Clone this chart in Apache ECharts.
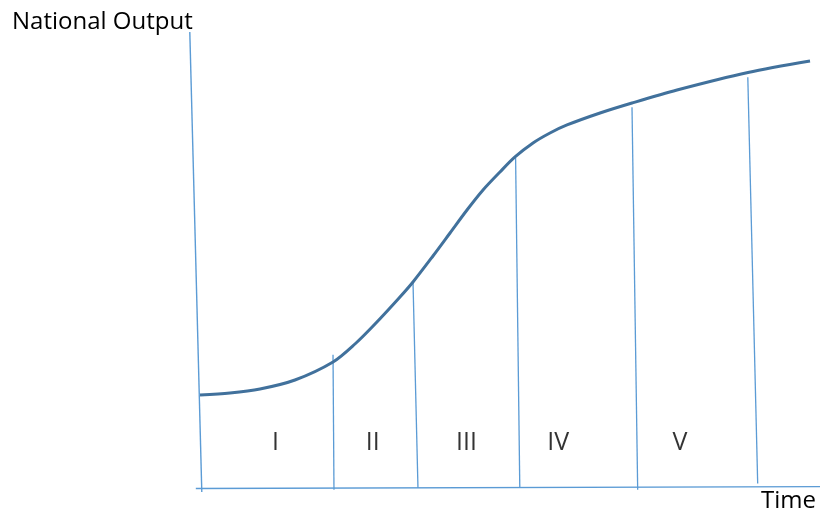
<!DOCTYPE html>
<html>
<head>
<meta charset="utf-8">
<script src="https://cdn.jsdelivr.net/npm/echarts@6/dist/echarts.min.js"></script>
<style>
html,body{margin:0;padding:0;background:#fff;}
#chart{width:820px;height:514px;}
</style>
</head>
<body>
<div id="chart"></div>
<script>
// ---- data (time units, output units) ----
const yAxisTitle = 'National Output';
const xAxisTitle = 'Time';
const curveTime   = [0, 5, 10, 15.83, 22.17, 25.83, 29.17, 33.33, 35.5, 38.83, 41.67, 44.5, 47.17, 50, 52.5, 55.5, 58.33, 61.17, 66.67, 72, 79.5, 91.33, 101.67];
const curveOutput = [20.39, 20.83, 21.71, 23.68, 27.63, 31.58, 35.96, 41.89, 45.18, 50.88, 55.92, 60.96, 65.35, 69.3, 72.59, 75.66, 77.85, 79.61, 82.24, 84.43, 87.28, 91.12, 93.64];
// hand-drawn axes (slightly slanted)
const outputAxisTime   = [-1.7, 0.3];
const outputAxisOutput = [100, -0.9];
const timeAxisTime     = [-0.7, 104];
const timeAxisOutput   = [-0.1, 0.3];
// stage dividers: top and bottom ends
const dividerTopTime      = [22.17, 35.5, 52.6, 72.0, 91.3];
const dividerTopOutput    = [29.2, 45.2, 72.4, 83.5, 90.1];
const dividerBottomTime   = [22.33, 36.33, 53.3, 72.95, 92.95];
const dividerBottomOutput = [-0.4, 0.0, 0.0, -0.4, 1.0];
// stage labels
const stageNames  = ['I', 'II', 'III', 'IV', 'V'];
const stageTime   = [12.6, 28.8, 44.4, 59.7, 80.0];
const stageOutput = [9.9, 9.9, 9.9, 9.9, 9.9];

const thinBlue = '#5B9BD5';
const curveBlue = '#41719C';
const font = '"Open Sans", sans-serif';

const zip = (a, b) => a.map((v, i) => [v, b[i]]);

const series = [];
series.push({
  type: 'line', name: 'outputAxis', data: zip(outputAxisTime, outputAxisOutput),
  symbol: 'none', clip: false, lineStyle: {color: thinBlue, width: 1.4}, silent: true
});
series.push({
  type: 'line', name: 'timeAxis', data: zip(timeAxisTime, timeAxisOutput),
  symbol: 'none', clip: false, lineStyle: {color: thinBlue, width: 1.4}, silent: true
});
dividerTopTime.forEach((t, i) => {
  series.push({
    type: 'line', name: 'divider' + i,
    data: [[t, dividerTopOutput[i]], [dividerBottomTime[i], dividerBottomOutput[i]]],
    symbol: 'none', clip: false, lineStyle: {color: thinBlue, width: 1.3}, silent: true
  });
});
series.push({
  type: 'line', name: 'curve', data: zip(curveTime, curveOutput),
  smooth: 0.3, symbol: 'none', clip: false,
  lineStyle: {color: curveBlue, width: 3}, silent: true, z: 5
});
series.push({
  type: 'scatter', name: 'stages',
  data: stageNames.map((n, i) => ({name: n, value: [stageTime[i], stageOutput[i]]})),
  symbolSize: 0, silent: true,
  label: {show: true, position: 'inside', formatter: p => p.name,
          fontFamily: font, fontSize: 25, color: '#000'}
});

const chart = echarts.init(document.getElementById('chart'), null, {renderer: 'canvas'});
chart.setOption({
  animation: false,
  backgroundColor: '#ffffff',
  title: [
    {text: yAxisTitle, left: 12, top: 8, padding: 0,
     textStyle: {fontFamily: font, fontSize: 24, fontWeight: 'normal', color: '#000', lineHeight: 28}},
    {text: xAxisTitle, left: 761, top: 487, padding: 0,
     textStyle: {fontFamily: font, fontSize: 24, fontWeight: 'normal', color: '#000', lineHeight: 28}}
  ],
  grid: {left: 188, width: 630, top: 22.88, height: 465.12 + 9.12},
  xAxis: {type: 'value', min: -2, max: 103, show: false},
  yAxis: {type: 'value', min: -2, max: 102, show: false},
  series: series
});
</script>
</body>
</html>
